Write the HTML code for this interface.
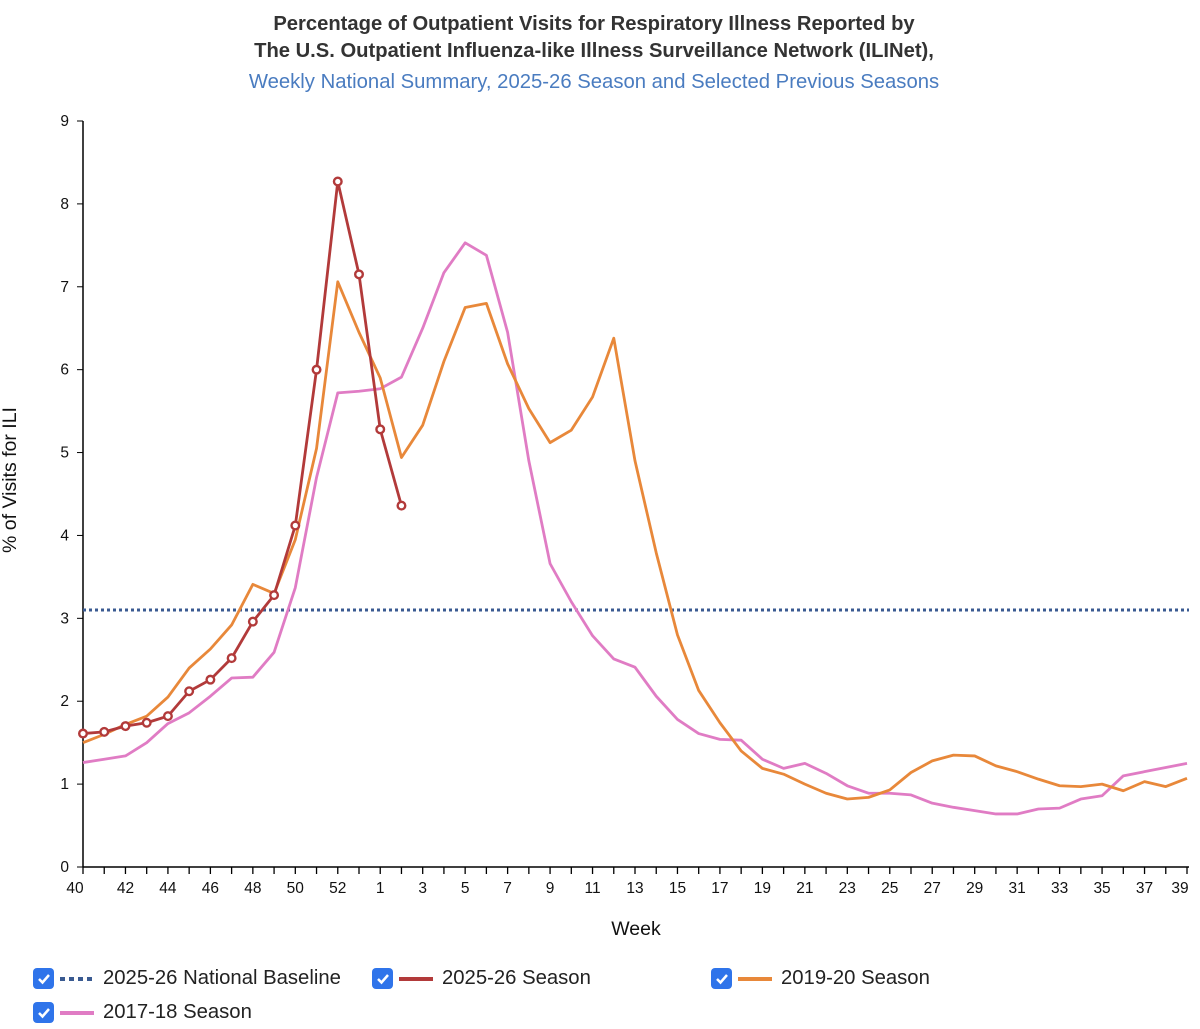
<!DOCTYPE html>
<html><head><meta charset="utf-8"><style>
body{margin:0;background:#fff;font-family:"Liberation Sans",Arial,sans-serif;}
#wrap{position:relative;width:1200px;height:1029px;overflow:hidden}
.leg{position:absolute;display:flex;align-items:center;font-size:20.3px;color:#222}
.cb{width:21px;height:21px;background:#2f74ea;border-radius:4px;display:flex;align-items:center;justify-content:center;margin-right:6px}
.sw{width:34px;height:4px;margin-right:9px}
</style></head><body><div id="wrap">
<svg id="svg" width="1200" height="960" style="position:absolute;left:0;top:0">
<text x="594" y="30" text-anchor="middle" font-size="20.2" font-weight="bold" fill="#333">Percentage of Outpatient Visits for Respiratory Illness Reported by</text>
<text x="594" y="57" text-anchor="middle" font-size="20.2" font-weight="bold" fill="#333">The U.S. Outpatient Influenza-like Illness Surveillance Network (ILINet),</text>
<text x="594" y="88" text-anchor="middle" font-size="20.3" fill="#4a7cc0">Weekly National Summary, 2025-26 Season and Selected Previous Seasons</text>
<text transform="translate(16,480) rotate(-90)" text-anchor="middle" font-size="19.5" fill="#111">% of Visits for ILI</text>
<text x="636" y="935" text-anchor="middle" font-size="19.5" fill="#111">Week</text>
<g id="g"></g>
</svg>
<div class="leg" style="left:33px;top:967px"><div class="cb"><svg width="14" height="12"><path d="M2 6 L5.5 9.5 L12 2" stroke="#fff" stroke-width="2.5" fill="none"/></svg></div><div class="sw" style="background:repeating-linear-gradient(90deg,#3a5a91 0 5px,transparent 5px 9px)"></div>2025-26 National Baseline</div>
<div class="leg" style="left:372px;top:967px"><div class="cb"><svg width="14" height="12"><path d="M2 6 L5.5 9.5 L12 2" stroke="#fff" stroke-width="2.5" fill="none"/></svg></div><div class="sw" style="background:#b23a3a"></div>2025-26 Season</div>
<div class="leg" style="left:711px;top:967px"><div class="cb"><svg width="14" height="12"><path d="M2 6 L5.5 9.5 L12 2" stroke="#fff" stroke-width="2.5" fill="none"/></svg></div><div class="sw" style="background:#e8883a"></div>2019-20 Season</div>
<div class="leg" style="left:33px;top:1001px"><div class="cb"><svg width="14" height="12"><path d="M2 6 L5.5 9.5 L12 2" stroke="#fff" stroke-width="2.5" fill="none"/></svg></div><div class="sw" style="background:#e07cc4"></div>2017-18 Season</div>
</div>
<script>
const weeks=[40,41,42,43,44,45,46,47,48,49,50,51,52,53,1,2,3,4,5,6,7,8,9,10,11,12,13,14,15,16,17,18,19,20,21,22,23,24,25,26,27,28,29,30,31,32,33,34,35,36,37,38,39];
const yTicks=[0,1,2,3,4,5,6,7,8,9];
const baseline=3.1;
const s2526=[1.61,1.63,1.70,1.74,1.82,2.12,2.26,2.52,2.96,3.28,4.12,6.0,8.27,7.15,5.28,4.36];
const s1920=[1.5,1.6,1.72,1.82,2.05,2.4,2.63,2.92,3.41,3.3,3.95,5.05,7.06,6.45,5.9,4.94,5.33,6.1,6.75,6.8,6.07,5.53,5.12,5.27,5.67,6.38,4.9,3.79,2.8,2.13,1.74,1.4,1.19,1.12,1.0,0.89,0.82,0.84,0.93,1.14,1.28,1.35,1.34,1.22,1.15,1.06,0.98,0.97,1.0,0.92,1.03,0.97,1.07];
const s1718=[1.26,1.3,1.34,1.5,1.73,1.86,2.06,2.28,2.29,2.59,3.37,4.7,5.72,5.74,5.77,5.91,6.5,7.17,7.53,7.38,6.45,4.9,3.66,3.2,2.79,2.51,2.41,2.06,1.78,1.61,1.54,1.53,1.3,1.19,1.25,1.13,0.98,0.89,0.89,0.87,0.77,0.72,0.68,0.64,0.64,0.7,0.71,0.82,0.86,1.1,1.15,1.2,1.25];
const X0=83,X1=1187,Y0=867,Y9=121;
const x=i=>X0+i*(X1-X0)/(weeks.length-1);
const y=v=>Y0-v*(Y0-Y9)/9;
const g=document.getElementById('g');const NS='http://www.w3.org/2000/svg';
function mk(t,a){const e=document.createElementNS(NS,t);for(const k in a)e.setAttribute(k,a[k]);g.appendChild(e);return e;}
let e=mk('line',{x1:X0,y1:Y0,x2:X0,y2:Y9,stroke:'#000','stroke-width':1.5});


e=mk('line',{x1:X0,y1:Y0,x2:X1+2,y2:Y0,stroke:'#000','stroke-width':1.5});


yTicks.forEach(v=>{mk('line',{x1:X0-6,x2:X0,y1:y(v),y2:y(v),stroke:'#000'});
e=mk('text',{x:X0-14,y:y(v)+5,'text-anchor':'end','font-size':15.5,fill:'#111'});e.textContent=v;

});
weeks.forEach((w,i)=>{mk('line',{x1:x(i),x2:x(i),y1:Y0,y2:Y0+7,stroke:'#000','stroke-width':1.3});
if(i%2==0){e=mk('text',{x:x(i)-(i==0?8:i==52?7:0),y:Y0+26,'text-anchor':'middle','font-size':15.5,fill:'#111'});e.textContent=w;

}});
e=mk('line',{x1:X0,x2:X1+2,y1:y(baseline),y2:y(baseline),stroke:'#3a5a91','stroke-width':3,'stroke-dasharray':'3 3'});


function line(d,c,n){e=mk('polyline',{points:d.map((v,i)=>x(i)+','+y(v)).join(' '),fill:'none',stroke:c,'stroke-width':2.8,'stroke-linejoin':'round'});

}
line(s1718,'#e07cc4','line-2017-18');
line(s1920,'#e8883a','line-2019-20');
line(s2526,'#b23a3a','line-2025-26');
s2526.forEach((v,i)=>{e=mk('circle',{cx:x(i),cy:y(v),r:3.8,fill:'#fff',stroke:'#b23a3a','stroke-width':2.4});

});
</script></body></html>
